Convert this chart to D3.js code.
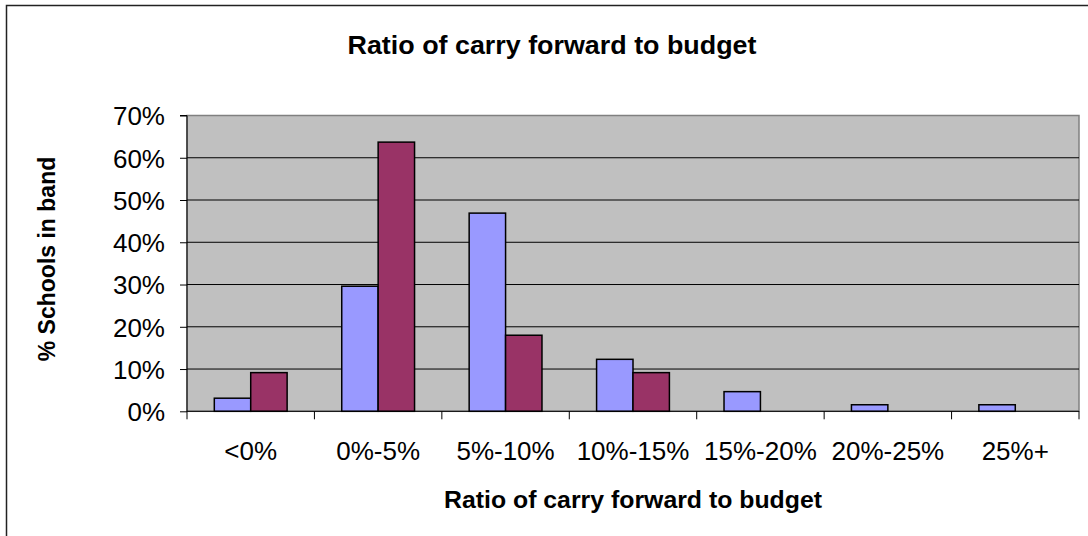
<!DOCTYPE html>
<html>
<head>
<meta charset="utf-8">
<script src="https://cdnjs.cloudflare.com/ajax/libs/d3/7.8.5/d3.min.js"></script>
<style>
  html, body { margin: 0; padding: 0; background: #fff; }
  svg { display: block; font-family: "Liberation Sans", Arial, sans-serif; }
</style>
</head>
<body>
<svg id="canvas"></svg>
<script>
let categories = ['<0%', '0%-5%', '5%-10%', '10%-15%', '15%-20%', '20%-25%', '25%+'];
let seriesA = [3.1, 29.6, 46.9, 12.3, 4.65, 1.55, 1.55];
let seriesB = [9.15, 63.7, 18.0, 9.15, 0, 0, 0];
let yTicks = [0, 10, 20, 30, 40, 50, 60, 70];

let chartTitle = 'Ratio of carry forward to budget';
let xTitle = 'Ratio of carry forward to budget';
let yTitle = '% Schools in band';

let width = 1088;
let height = 536;
let plot = { left: 187, right: 1079, top: 115.5, bottom: 411.3 };

let canvas = d3.select('#canvas')
    .attr('width', width)
    .attr('height', height);

// outer chart border (right and bottom edges fall outside the picture)
canvas.append('rect')
    .attr('x', 6.5).attr('y', 5.5)
    .attr('width', 1200).attr('height', 600)
    .attr('fill', 'none')
    .attr('stroke', '#222')
    .attr('stroke-width', 1.5);

let xScale = d3.scaleBand()
    .domain(categories)
    .range([plot.left, plot.right])
    .paddingInner(0)
    .paddingOuter(0);

let inner = d3.scaleBand()
    .domain(['a', 'b'])
    .range([0, xScale.bandwidth()])
    .paddingOuter(0.75)
    .paddingInner(0);

let yScale = d3.scaleLinear()
    .domain([0, 70])
    .range([plot.bottom, plot.top]);

// plot background
canvas.append('rect')
    .attr('x', plot.left).attr('y', plot.top)
    .attr('width', plot.right - plot.left)
    .attr('height', plot.bottom - plot.top)
    .attr('fill', '#c0c0c0')
    .attr('stroke', '#808080')
    .attr('stroke-width', 1.5);

// gridlines
canvas.append('g')
    .selectAll('line')
    .data(yTicks.filter(t => t > 0 && t < 70))
    .enter()
    .append('line')
    .attr('x1', plot.left).attr('x2', plot.right)
    .attr('y1', d => yScale(d)).attr('y2', d => yScale(d))
    .attr('stroke', '#000')
    .attr('stroke-width', 1);

let rows = categories.map((c, i) => ({ cat: c, a: seriesA[i], b: seriesB[i] }));

let groups = canvas.append('g')
    .selectAll('g')
    .data(rows)
    .enter()
    .append('g')
    .attr('transform', d => `translate(${xScale(d.cat)},0)`);

groups.filter(d => d.a > 0).append('rect')
    .attr('x', inner('a'))
    .attr('width', inner.bandwidth())
    .attr('y', d => yScale(d.a))
    .attr('height', d => yScale(0) - yScale(d.a))
    .attr('fill', '#9999ff')
    .attr('stroke', '#000')
    .attr('stroke-width', 1.5);

groups.filter(d => d.b > 0).append('rect')
    .attr('x', inner('b'))
    .attr('width', inner.bandwidth())
    .attr('y', d => yScale(d.b))
    .attr('height', d => yScale(0) - yScale(d.b))
    .attr('fill', '#993366')
    .attr('stroke', '#000')
    .attr('stroke-width', 1.5);

// y axis
let yAxis = d3.axisLeft(yScale)
    .tickValues(yTicks)
    .tickSize(7)
    .tickPadding(15)
    .tickFormat(d => d + '%');

let yg = canvas.append('g')
    .attr('transform', `translate(${plot.left},0)`)
    .call(yAxis);
yg.select('.domain').attr('stroke', '#000').attr('d', `M-7,${plot.top}H0V${plot.bottom}`);
yg.selectAll('.tick line').attr('stroke', '#000');
yg.selectAll('.tick text')
    .attr('fill', '#000')
    .style('font-size', '26px')
    .attr('dy', '0.36em');

// x axis: ticks sit on category boundaries
let boundaries = categories.map(c => xScale(c)).concat([plot.right]);
let xg = canvas.append('g');
xg.append('line')
    .attr('x1', plot.left).attr('x2', plot.right)
    .attr('y1', plot.bottom).attr('y2', plot.bottom)
    .attr('stroke', '#000');
xg.selectAll('line.tk')
    .data(boundaries)
    .enter()
    .append('line')
    .attr('class', 'tk')
    .attr('x1', d => d).attr('x2', d => d)
    .attr('y1', plot.bottom).attr('y2', plot.bottom + 8)
    .attr('stroke', '#000');
xg.selectAll('text')
    .data(categories)
    .enter()
    .append('text')
    .attr('x', d => xScale(d) + xScale.bandwidth() / 2)
    .attr('y', 460)
    .attr('text-anchor', 'middle')
    .style('font-size', '26px')
    .text(d => d);

// titles
canvas.append('text')
    .attr('x', 552).attr('y', 54)
    .attr('text-anchor', 'middle')
    .style('font-size', '25px')
    .style('font-weight', 'bold')
    .attr('textLength', 409)
    .attr('lengthAdjust', 'spacingAndGlyphs')
    .text(chartTitle);

canvas.append('text')
    .attr('x', (plot.left + plot.right) / 2).attr('y', 508)
    .attr('text-anchor', 'middle')
    .style('font-size', '24px')
    .style('font-weight', 'bold')
    .attr('textLength', 378)
    .attr('lengthAdjust', 'spacingAndGlyphs')
    .text(xTitle);

canvas.append('text')
    .attr('transform', `translate(55,259) rotate(-90)`)
    .attr('text-anchor', 'middle')
    .style('font-size', '23px')
    .style('font-weight', 'bold')
    .text(yTitle);
</script>
</body>
</html>
